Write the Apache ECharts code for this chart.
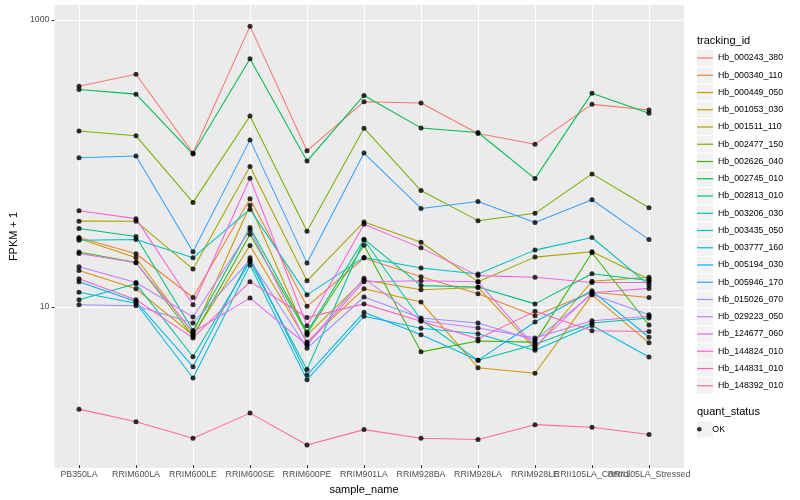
<!DOCTYPE html>
<html><head><meta charset="utf-8">
<script src="https://cdn.jsdelivr.net/npm/echarts@6/dist/echarts.min.js"></script>
<style>html,body{margin:0;padding:0;background:#fff}#c{width:800px;height:500px}</style>
</head><body><div id="c"></div>
<script>
const categories = ["PB350LA","RRIM600LA","RRIM600LE","RRIM600SE","RRIM600PE","RRIM901LA","RRIM928BA","RRIM928LA","RRIM928LE","RRII105LA_Control","RRII105LA_Stressed"];

const Hb_000243_380 = [343, 416, 116.5, 904, 120.8, 267, 261, 159.7, 134.5, 255.7, 233.3];
const Hb_000340_110 = [29.8, 22.9, 11.3, 55.7, 9.8, 21.4, 15.8, 12.0, 8.43, 12.3, 11.3];
const Hb_000449_050 = [17.5, 13.0, 6.17, 26.2, 5.52, 13.0, 10.5, 3.64, 3.33, 11.8, 5.44];
const Hb_001053_030 = [29.3, 21.5, 6.32, 50.1, 6.17, 15.0, 12.8, 13.3, 4.96, 14.7, 15.7];
const Hb_001511_110 = [38.8, 38.7, 17.9, 93.8, 14.8, 38.3, 27.6, 14.6, 21.7, 23.7, 15.2];
const Hb_002477_150 = [166.5, 153.8, 52.5, 211.9, 32.9, 174.0, 63.6, 39.1, 44.0, 83.2, 48.2];
const Hb_002626_040 = [23.6, 19.9, 6.02, 31.4, 6.32, 26.3, 4.70, 5.61, 5.50, 23.3, 7.25];
const Hb_002745_010 = [325.2, 301.6, 114.6, 534.8, 102.4, 295.4, 174.8, 162.3, 77.1, 306.5, 221.3];
const Hb_002813_010 = [34.4, 30.3, 6.63, 35.0, 6.48, 29.0, 13.7, 13.4, 10.2, 16.6, 14.9];
const Hb_003206_030 = [10.9, 14.1, 4.34, 20.2, 3.54, 28.6, 7.90, 4.10, 5.30, 7.49, 8.12];
const Hb_003435_050 = [28.5, 28.8, 21.5, 46.9, 11.8, 21.6, 18.2, 16.5, 24.3, 29.8, 13.8];
const Hb_003777_160 = [12.3, 10.3, 3.08, 19.1, 2.99, 8.35, 6.89, 6.30, 4.83, 7.19, 4.32];
const Hb_005194_030 = [14.6, 10.6, 3.70, 21.5, 3.23, 8.9, 6.20, 4.10, 7.61, 12.6, 5.95];
const Hb_005946_170 = [108.0, 111.0, 23.7, 144.1, 19.7, 116.5, 47.6, 53.3, 37.9, 54.8, 28.8];
const Hb_015026_070 = [10.05, 9.9, 7.49, 20.7, 4.98, 11.4, 8.12, 7.49, 5.68, 11.9, 8.56];
const Hb_029223_050 = [18.6, 14.4, 8.25, 33.8, 5.38, 15.4, 7.80, 6.91, 5.89, 7.77, 8.35];
const Hb_124677_060 = [23.0, 19.8, 6.48, 11.2, 5.25, 14.6, 14.8, 14.6, 5.11, 12.2, 13.1];
const Hb_144824_010 = [45.9, 40.4, 10.05, 77.6, 7.17, 36.9, 25.2, 16.1, 15.7, 14.4, 14.4];
const Hb_144831_010 = [15.3, 10.9, 5.89, 14.6, 8.18, 10.2, 7.70, 5.80, 9.04, 6.60, 6.54];
const Hb_148392_010 = [1.864, 1.522, 1.165, 1.748, 1.046, 1.339, 1.165, 1.141, 1.451, 1.390, 1.236];

const seriesNames = ["Hb_000243_380","Hb_000340_110","Hb_000449_050","Hb_001053_030","Hb_001511_110","Hb_002477_150","Hb_002626_040","Hb_002745_010","Hb_002813_010","Hb_003206_030","Hb_003435_050","Hb_003777_160","Hb_005194_030","Hb_005946_170","Hb_015026_070","Hb_029223_050","Hb_124677_060","Hb_144824_010","Hb_144831_010","Hb_148392_010"];
const seriesValues = [Hb_000243_380,Hb_000340_110,Hb_000449_050,Hb_001053_030,Hb_001511_110,Hb_002477_150,Hb_002626_040,Hb_002745_010,Hb_002813_010,Hb_003206_030,Hb_003435_050,Hb_003777_160,Hb_005194_030,Hb_005946_170,Hb_015026_070,Hb_029223_050,Hb_124677_060,Hb_144824_010,Hb_144831_010,Hb_148392_010];
const seriesColors = ["#F8766D","#EA8331","#D89000","#C09B00","#A3A500","#7CAE00","#39B600","#00BB4E","#00BF7D","#00C1A3","#00BFC4","#00BAE0","#00B0F6","#35A2FF","#9590FF","#C77CFF","#E76BF3","#FA62DB","#FF62BC","#FF6C91"];
const statusName = "OK";
const yTickLabels = [10, 1000];

const FONT = "'Liberation Sans', Arial, Helvetica, sans-serif";
const yMin = 0.7551, yMax = 1272;

const chart = echarts.init(document.getElementById('c'), null, {renderer: 'canvas'});

const lineSeries = seriesNames.map((n, i) => ({
  name: n, type: 'line', xAxisIndex: 1, yAxisIndex: 1,
  data: seriesValues[i], showSymbol: false, symbol: 'none',
  itemStyle: {color: seriesColors[i]},
  lineStyle: {color: seriesColors[i], width: 1.05},
  emphasis: {disabled: true}, silent: true, z: 2
}));
const pointData = [];
seriesValues.forEach(arr => arr.forEach((v, j) => pointData.push([j, v])));
const pointSeries = {
  name: statusName, type: 'scatter', xAxisIndex: 1, yAxisIndex: 1,
  data: pointData, symbol: 'circle', symbolSize: 5,
  itemStyle: {color: '#000'}, z: 5, silent: true
};

const graphics = [
  {type: 'text', left: 697, top: 35, style: {text: 'tracking_id', fontSize: 11, fontFamily: FONT, fill: '#000'}},
  {type: 'text', left: 697, top: 406.5, style: {text: 'quant_status', fontSize: 11, fontFamily: FONT, fill: '#000'}},
  {type: 'rect', shape: {x: 697, y: 421.3, width: 16, height: 16}, style: {fill: '#F2F2F2'}, z: -1}
];
seriesNames.forEach((n, i) => {
  graphics.push({type: 'rect', shape: {x: 697, y: 50 + i * 17.25, width: 16, height: 16.2}, style: {fill: '#F2F2F2'}, z: -1});
});

chart.setOption({
  animation: false,
  textStyle: {fontFamily: FONT},
  grid: [
    {left: 45, top: 5, width: 639, height: 463, show: true, backgroundColor: '#EBEBEB', borderWidth: 0, containLabel: false},
    {left: 79, top: 5, width: 570, height: 463, show: false, containLabel: false}
  ],
  xAxis: [
    {gridIndex: 0, type: 'value', min: 0, max: 1, show: false},
    {gridIndex: 1, type: 'category', data: categories, boundaryGap: false,
     axisLine: {show: false},
     axisTick: {show: true, interval: 0, length: 3, lineStyle: {color: '#333', width: 1}},
     axisLabel: {interval: 0, hideOverlap: false, fontSize: 8.8, color: '#4D4D4D', margin: 5, fontFamily: FONT},
     splitLine: {show: true, interval: 0, lineStyle: {color: '#FFFFFF', width: 1.1}},
     name: 'sample_name', nameLocation: 'middle', nameGap: 15,
     nameTextStyle: {fontSize: 11, color: '#000', fontFamily: FONT}}
  ],
  yAxis: [
    {gridIndex: 0, type: 'log', logBase: 10, min: yMin, max: yMax, splitNumber: 3,
     axisLine: {show: false},
     axisTick: {show: true, customValues: yTickLabels, length: 3, lineStyle: {color: '#333', width: 1}},
     axisLabel: {customValues: yTickLabels, fontSize: 8.8, color: '#4D4D4D', margin: 5, fontFamily: FONT,
       formatter: v => String(Math.round(v))},
     splitLine: {show: true, lineStyle: {color: '#FFFFFF', width: 1}},
     name: 'FPKM + 1', nameLocation: 'middle', nameRotate: 90, nameGap: 27,
     nameTextStyle: {fontSize: 11, color: '#000', fontFamily: FONT}},
    {gridIndex: 1, type: 'log', logBase: 10, min: yMin, max: yMax, show: false}
  ],
  legend: [
    {data: seriesNames, orient: 'vertical', left: 697, top: 53, padding: 0,
     itemWidth: 16, itemHeight: 10, itemGap: 7.25,
     icon: 'path://M0,0H16V1.2H0Z', symbolKeepAspect: true,
     itemStyle: {borderWidth: 0},
     textStyle: {fontSize: 8.8, color: '#000', fontFamily: FONT, lineHeight: 10},
     selectedMode: false},
    {data: [statusName], orient: 'vertical', left: 697, top: 424.3, padding: 0,
     itemWidth: 16, itemHeight: 4.6, icon: 'circle',
     itemStyle: {borderWidth: 0},
     textStyle: {fontSize: 8.8, color: '#000', fontFamily: FONT, lineHeight: 10},
     selectedMode: false}
  ],
  graphic: graphics,
  series: lineSeries.concat([pointSeries])
});
</script>
</body></html>
